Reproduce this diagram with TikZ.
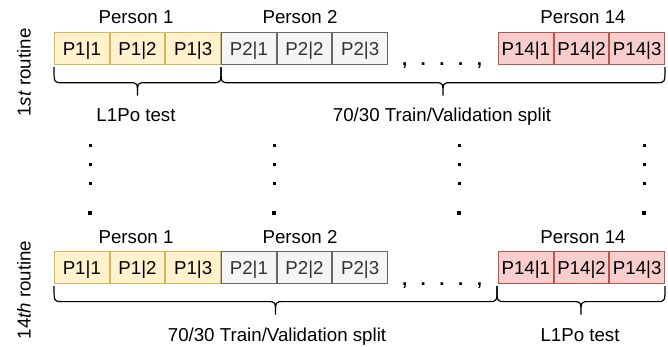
\documentclass[tikz,border=0pt]{standalone}
\usepackage{fontspec}
\setmainfont{Liberation Sans}
\usetikzlibrary{calc}
\definecolor{yfill}{HTML}{FFF2CC}
\definecolor{ydraw}{HTML}{D6B656}
\definecolor{gfill}{HTML}{F5F5F5}
\definecolor{gdraw}{HTML}{666666}
\definecolor{gtext}{HTML}{333333}
\definecolor{rfill}{HTML}{F8CECC}
\definecolor{rdraw}{HTML}{B85450}
\newcommand\drawbrace[3]{% left point, right point, tip fraction
  \draw[bracestyle] let \p1=#1, \p2=#2, \p3=($#1!#3!#2$) in
    (\x1,\y1-2pt) .. controls (\x1,\y1-17.5pt) .. (\x1+8pt,\y1-17.5pt)
    -- (\x3-8pt,\y1-17.5pt) .. controls (\x3,\y1-17.5pt) .. (\x3,\y1-30.5pt)
    .. controls (\x3,\y1-17.5pt) .. (\x3+8pt,\y1-17.5pt)
    -- (\x2-8pt,\y1-17.5pt) .. controls (\x2,\y1-17.5pt) .. (\x2,\y1-2pt);
}
\begin{document}
\begin{tikzpicture}[x=1pt,y=-1pt,
  font=\fontsize{18.7}{22}\selectfont,
  cell/.style={draw, line width=1pt, minimum width=54.67pt, minimum height=32pt,
    inner sep=0pt, text height=13.3pt, text depth=0pt, anchor=west},
  ycell/.style={cell, fill=yfill, draw=ydraw, text=black},
  gcell/.style={cell, fill=gfill, draw=gdraw, text=gtext},
  rcell/.style={cell, fill=rfill, draw=rdraw, text=black},
  lbl/.style={anchor=base, inner sep=0pt},
  bracestyle/.style={line width=1.2pt, black},
  dotsq/.style={fill=black}]
\useasboundingbox (0,0) rectangle (668,347);

% ---------- 1st routine ----------
\node[ycell] (a11) at (54,48.7) {P1|1};
\node[ycell] (a12) at (a11.east) {P1|2};
\node[ycell] (a13) at (a12.east) {P1|3};
\node[gcell] (a21) at (a13.east) {P2|1};
\node[gcell] (a22) at (a21.east) {P2|2};
\node[gcell] (a23) at (a22.east) {P2|3};
\node[rcell] (a141) at (498,48.7) {P14|1};
\node[rcell] (a142) at (a141.east) {P14|2};
\node[rcell] (a143) at (a142.east) {P14|3};

\node[lbl] (ap1) at (136,24) {Person 1};
\node[lbl] (ap2) at (300,24) {Person 2};
\node[lbl] (ap14) at (583,24) {Person 14};
\node[lbl] (adots) at (442,66) {\bfseries ,\hspace{13.5pt}.\hspace{13.5pt}.\hspace{13.5pt}.\hspace{13.5pt},};
\node[lbl, rotate=90] (ar) at (30.5,72.5) {1\textit{st} routine};

\drawbrace{(a11.south west)}{(a13.south east)}{0.5}
\drawbrace{(a21.south west)}{(a143.south east)}{0.5}
\node[lbl] (alt) at (136,122) {L1Po test};
\node[lbl] (atv) at (442,122) {70/30 Train/Validation split};

% ---------- vertical dots ----------
\foreach \xx in {90,274,459,644}{
  \foreach \yy in {146,165,184}{
    \fill[dotsq] (\xx-1.5,\yy-1.5) rectangle (\xx+1.5,\yy+1.5);
  }
  \fill[dotsq] (\xx-1.8,213-1.8) rectangle (\xx+1.8,213+1.8);
}

% ---------- 14th routine ----------
\node[ycell] (b11) at (54,267.6) {P1|1};
\node[ycell] (b12) at (b11.east) {P1|2};
\node[ycell] (b13) at (b12.east) {P1|3};
\node[gcell] (b21) at (b13.east) {P2|1};
\node[gcell] (b22) at (b21.east) {P2|2};
\node[gcell] (b23) at (b22.east) {P2|3};
\node[rcell] (b141) at (498,267.6) {P14|1};
\node[rcell] (b142) at (b141.east) {P14|2};
\node[rcell] (b143) at (b142.east) {P14|3};

\node[lbl] (bp1) at (136,243) {Person 1};
\node[lbl] (bp2) at (300,243) {Person 2};
\node[lbl] (bp14) at (583,243) {Person 14};
\node[lbl] (bdots) at (442,285) {\bfseries ,\hspace{13.5pt}.\hspace{13.5pt}.\hspace{13.5pt}.\hspace{13.5pt},};
\node[lbl, rotate=90] (br) at (30.5,290) {14\textit{th} routine};

\coordinate (bsplit) at ($(b141.south west)+(-1,0)$);
\drawbrace{(b11.south west)}{(bsplit)}{0.5}
\drawbrace{(bsplit)}{(b143.south east)}{0.5}
\node[lbl] (btv) at (277,341) {70/30 Train/Validation split};
\node[lbl] (blt) at (580,341) {L1Po test};
\end{tikzpicture}
\end{document}
